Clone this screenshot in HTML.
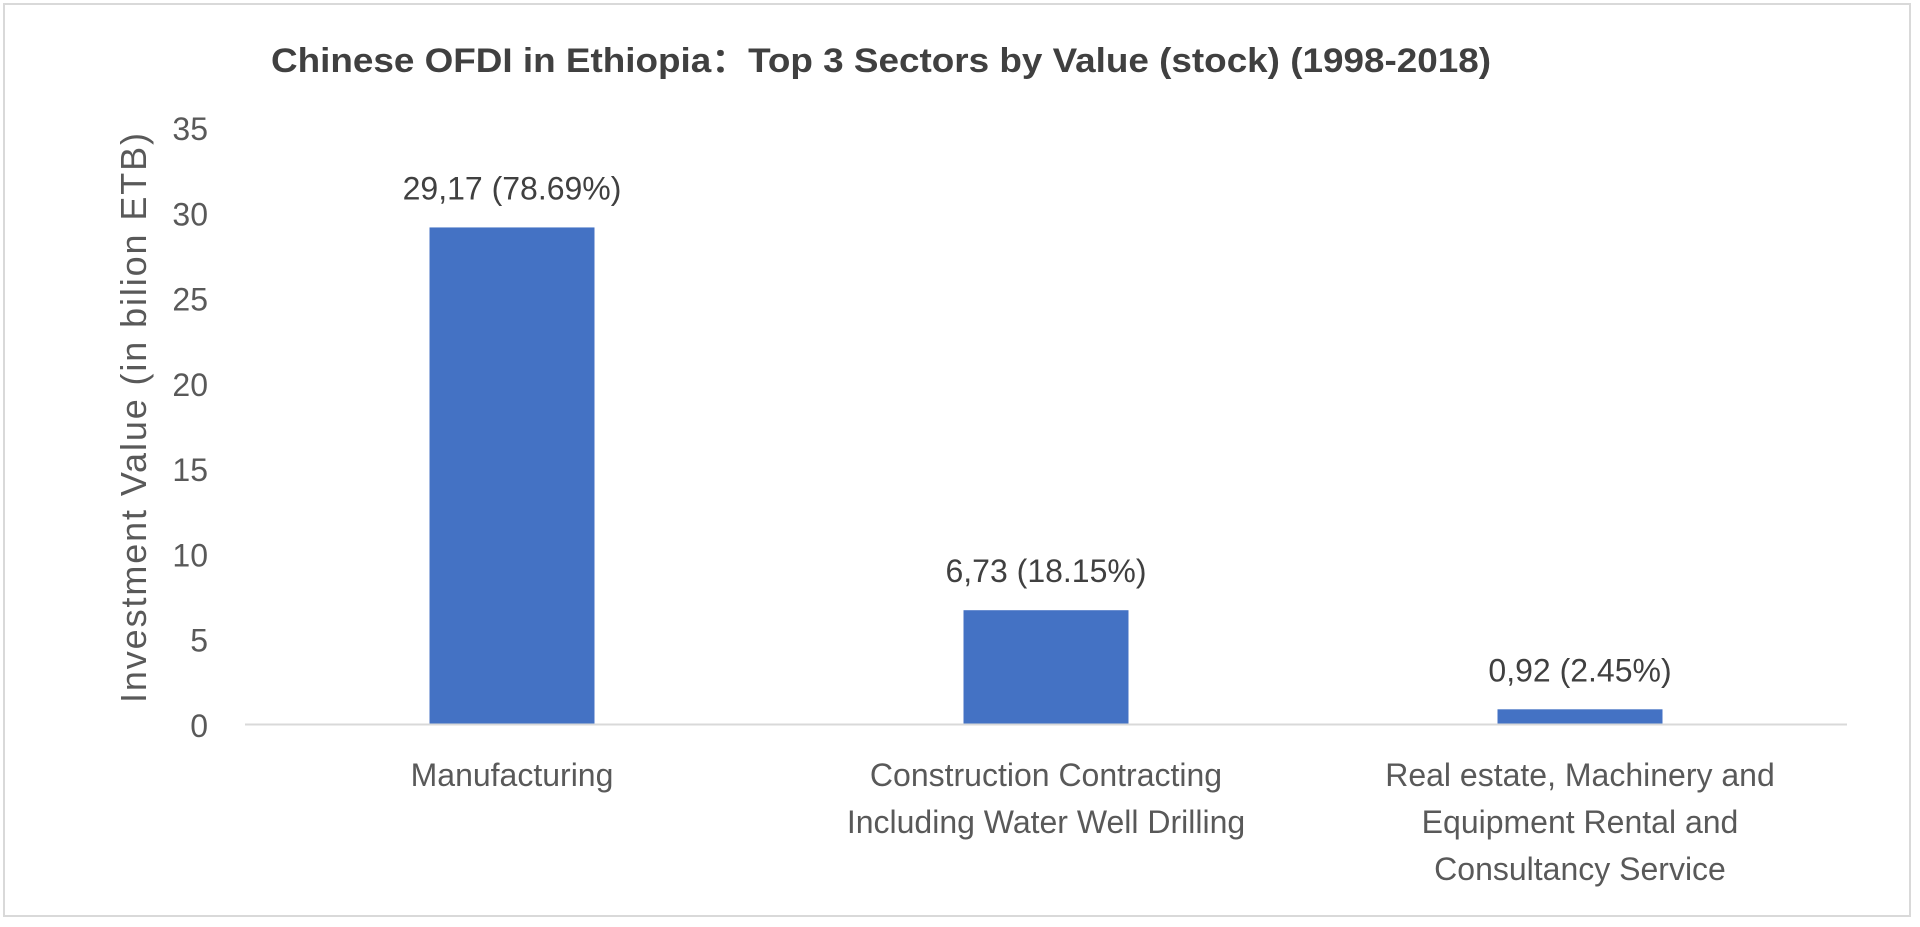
<!DOCTYPE html>
<html><head><meta charset="utf-8"><style>
html,body{margin:0;padding:0;background:#fff;}
svg{display:block;font-family:"Liberation Sans",sans-serif;}
</style></head><body>
<svg id="chart" width="1920" height="927" viewBox="0 0 1920 927">
<rect x="4" y="4" width="1906" height="912" fill="#fff" stroke="#d9d9d9" stroke-width="2"/>
<text x="881" y="72" text-anchor="middle" font-size="34" font-weight="bold" fill="#404040" textLength="1220" lengthAdjust="spacingAndGlyphs">Chinese OFDI in Ethiopia：Top 3 Sectors by Value (stock) (1998-2018)</text>
<text transform="translate(146,418) rotate(-90)" text-anchor="middle" font-size="36" fill="#595959" textLength="570" lengthAdjust="spacing">Investment  Value (in bilion ETB)</text>
<g id="yticks"></g><g id="bars"></g><g id="labels"></g><g id="cats"></g>
<line x1="245" y1="724.5" x2="1847" y2="724.5" stroke="#d9d9d9" stroke-width="2"/>
</svg>
<script>
const categories = [["Manufacturing"],["Construction Contracting","Including Water Well Drilling"],["Real estate, Machinery and","Equipment Rental and","Consultancy Service"]];
const values = [29.17, 6.73, 0.92];
const valueLabels = ["29,17 (78.69%)","6,73 (18.15%)","0,92 (2.45%)"];
const yTicks = [0,5,10,15,20,25,30,35];
const NS="http://www.w3.org/2000/svg";
const x0=245,x1=1847,y0=725,yTop=128,yMax=35;
const band=(x1-x0)/categories.length, barW=165;
const y=v=>y0-(v/yMax)*(y0-yTop);
const cx=i=>x0+band*(i+0.5);
function mk(tag,attrs,parent){const e=document.createElementNS(NS,tag);for(const k in attrs)e.setAttribute(k,attrs[k]);document.getElementById(parent).appendChild(e);return e;}
yTicks.forEach(t=>{
  const e=mk('text',{x:208,y:y(t)+12,'text-anchor':'end','font-size':32,fill:'#595959'},'yticks');
  e.textContent=t;
  
  
});
values.forEach((v,i)=>{
  const r=mk('rect',{x:cx(i)-barW/2,y:y(v),width:barW,height:y0-y(v),fill:'#4472C4'},'bars');
  
  
  const l=mk('text',{x:cx(i),y:y(v)-28,'text-anchor':'middle','font-size':32,fill:'#404040'},'labels');
  l.textContent=valueLabels[i];
  
  
  categories[i].forEach((line,j)=>{
    const c=mk('text',{x:cx(i),y:786+j*47,'text-anchor':'middle','font-size':32,fill:'#595959'},'cats');
    c.textContent=line;
    
    
  });
});
</script>
</body></html>
